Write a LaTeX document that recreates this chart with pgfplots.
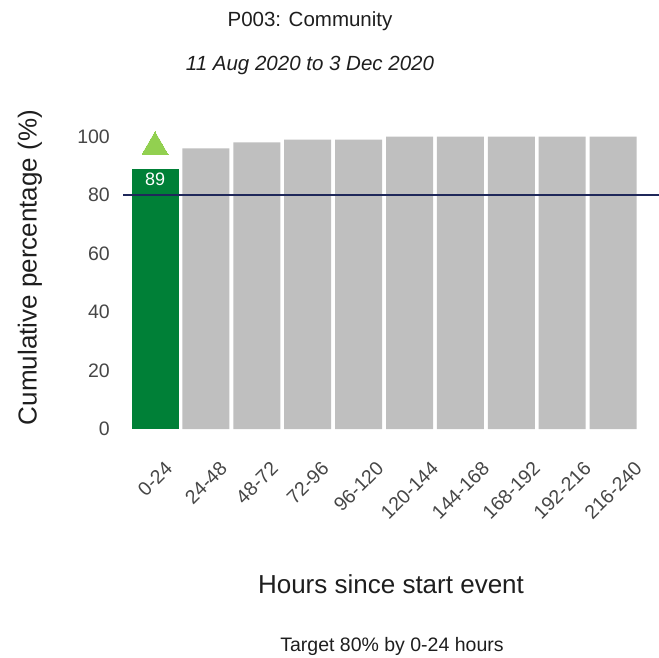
\documentclass[border=0pt]{standalone}
\usepackage{pgfplots}
\pgfplotsset{compat=1.18}
\usepackage{graphicx}
\usepackage{fontspec}
\setmainfont{Liberation Sans}
\definecolor{bargreen}{RGB}{0,128,55}
\definecolor{bargray}{RGB}{191,191,191}
\definecolor{trigreen}{RGB}{146,208,80}
\definecolor{navyline}{RGB}{31,40,90}
\definecolor{txt}{RGB}{30,30,30}
\definecolor{ticktxt}{RGB}{70,70,70}
\begin{document}
\begin{tikzpicture}[x=1pt,y=1pt]
\path[use as bounding box] (0,0) rectangle (659,657);
\begin{axis}[
  at={(123pt,228pt)}, anchor=south west,
  scale only axis, width=536pt, height=307pt,
  xmin=-0.629, xmax=9.902, ymin=0, ymax=105,
  axis line style={draw=none},
  major tick length=0pt,
  xtick={0,...,9},
  xticklabels={{\rotatebox{45}{0-24}},{\rotatebox{45}{24-48}},{\rotatebox{45}{48-72}},{\rotatebox{45}{72-96}},{\rotatebox{45}{96-120}},{\rotatebox{45}{120-144}},{\rotatebox{45}{144-168}},{\rotatebox{45}{168-192}},{\rotatebox{45}{192-216}},{\rotatebox{45}{216-240}}},
  xticklabel style={font=\fontsize{19.5}{23}\selectfont, text=ticktxt, anchor=north, inner sep=0pt, yshift=-31pt},
  ytick={0,20,40,60,80,100},
  yticklabel style={font=\fontsize{19.5}{23}\selectfont, text=ticktxt, anchor=east, inner sep=0pt, xshift=-13pt},
  /pgf/number format/assume math mode=true,
  clip=false,
]
\addplot[ybar, bar width=47pt, bar shift=0pt, fill=bargreen, draw=none,
  nodes near coords, every node near coord/.append style={anchor=north, text=white, font=\fontsize{18}{21}\selectfont, inner sep=3.5pt}]
  coordinates {(0,89)};
\addplot[ybar, bar width=47pt, bar shift=0pt, fill=bargray, draw=none]
  coordinates {(1,96) (2,98) (3,99) (4,99) (5,100) (6,100) (7,100) (8,100) (9,100)};
\addplot[only marks, mark=triangle*, mark size=15pt, color=trigreen, mark options={fill=trigreen, draw=trigreen, line width=0pt}]
  coordinates {(0,96.5)};
\addplot[navyline, line width=1.8pt] coordinates {(-0.629,80) (9.902,80)};
\end{axis}
\node[anchor=base, font=\fontsize{20.5}{24}\selectfont, text=txt] at (310,630) {P003: Community};
\node[anchor=base, font=\fontsize{20.5}{24}\selectfont\itshape, text=txt] at (310,586) {11 Aug 2020 to 3 Dec 2020};
\node[rotate=90, font=\fontsize{26}{30}\selectfont, text=txt] at (30,389.5) {Cumulative percentage (\%)};
\node[anchor=base, font=\fontsize{26}{30}\selectfont, text=txt] at (391,64) {Hours since start event};
\node[anchor=base, font=\fontsize{19.5}{23}\selectfont, text=txt] at (392,6) {Target 80\% by 0-24 hours};
\end{tikzpicture}
\end{document}
